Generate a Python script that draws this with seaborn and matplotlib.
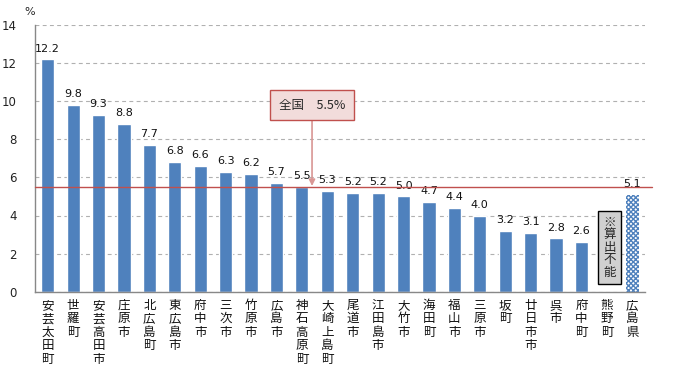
import numpy as np
import pandas as pd
import matplotlib
matplotlib.use("Agg")
import matplotlib.pyplot as plt
import seaborn as sns

categories = ["安芸太田町", "世羅町", "安芸高田市", "庄原市", "北広島町", "東広島市", "府中市",
              "三次市", "竹原市", "広島市", "神石高原町", "大崎上島町", "尾道市", "江田島市",
              "大竹市", "海田町", "福山市", "三原市", "坂町", "廿日市市", "呉市", "府中町",
              "熊野町", "広島県"]
values = [12.2, 9.8, 9.3, 8.8, 7.7, 6.8, 6.6, 6.3, 6.2, 5.7, 5.5, 5.3, 5.2, 5.2,
          5.0, 4.7, 4.4, 4.0, 3.2, 3.1, 2.8, 2.6, np.nan, 5.1]
national = 5.5
national_label = "全国　5.5%"
na_label = "※算出不能"
y_ticks = [0, 2, 4, 6, 8, 10, 12, 14]

sns.set_theme(style="white")
plt.rcParams["font.family"] = ["Noto Sans CJK JP", "DejaVu Sans"]

blue = "#4F81BD"
df = pd.DataFrame({"cat": categories, "val": values})

fig = plt.figure(figsize=(6.77, 3.72), dpi=100)
ax = fig.add_axes([35/677, 1-291.7/372, 610/677, (291.7-25)/372])

sns.barplot(data=df, x="cat", y="val", order=categories, color=blue, width=0.52,
            saturation=1, ax=ax, errorbar=None)

# style the prefecture bar as hatched
for p in ax.patches:
    cx = p.get_x() + p.get_width()/2
    if abs(cx - (len(categories)-1)) < 0.3:
        p.set_facecolor("white")
        p.set_edgecolor(blue)
        p.set_hatch("xxxxxxx")
        p.set_linewidth(0)

ax.set_xlim(-0.5, len(categories)-0.5)
ax.set_ylim(0, 14)
ax.set_yticks(y_ticks)
ax.set_yticklabels([str(t) for t in y_ticks], fontsize=8.5, color="#222222", family="DejaVu Sans")
ax.yaxis.grid(True, linestyle=(0, (3.5, 3)), color="#B0B0B0", linewidth=0.8)
ax.set_axisbelow(True)
ax.set_xlabel("")
ax.set_ylabel("")

ax.set_xticks(range(len(categories)))
ax.set_xticklabels(["\n".join(c) for c in categories], rotation=0, fontsize=9,
                   va="top", linespacing=1.05, color="#111111")
ax.tick_params(axis="x", which="major", length=0, pad=5)
ax.set_xticks(np.arange(-0.5, len(categories), 1), minor=True)
ax.tick_params(axis="x", which="minor", length=4, direction="inout", color="#888888", width=0.8)
ax.tick_params(axis="y", length=0, pad=13)

for s in ["top", "right"]:
    ax.spines[s].set_visible(False)
for s in ["left", "bottom"]:
    ax.spines[s].set_color("#888888")
    ax.spines[s].set_linewidth(1.0)

# value labels
for i, v in enumerate(values):
    if not np.isnan(v):
        ax.text(i, v + 0.3, f"{v:.1f}", ha="center", va="bottom", fontsize=8,
                family="DejaVu Sans", color="#111111")

# national line
ax.axhline(national, xmin=0, xmax=1.012, color="#C0504D", linewidth=1.0, clip_on=False, zorder=3)

ax.annotate(national_label, xy=(10.4, national + 0.05), xytext=(10.4, 9.8),
            ha="center", va="center", fontsize=9,
            bbox=dict(boxstyle="square,pad=0.7", facecolor="#F2DCDB", edgecolor="#C0504D", linewidth=1),
            arrowprops=dict(arrowstyle="-|>,head_length=0.4,head_width=0.2", color="#D99694", lw=1.2,
                            shrinkA=0, shrinkB=0))

ax.text(22.1, 2.33, "\n".join(na_label), ha="center", va="center", fontsize=9, linespacing=0.95,
        bbox=dict(boxstyle="square,pad=0.4", facecolor="#D0D0D0", edgecolor="black", linewidth=1))

fig.text(24/677, 1-12/372, "%", fontsize=8, ha="left", va="center", family="DejaVu Sans")

fig.savefig("out.png", dpi=100)
